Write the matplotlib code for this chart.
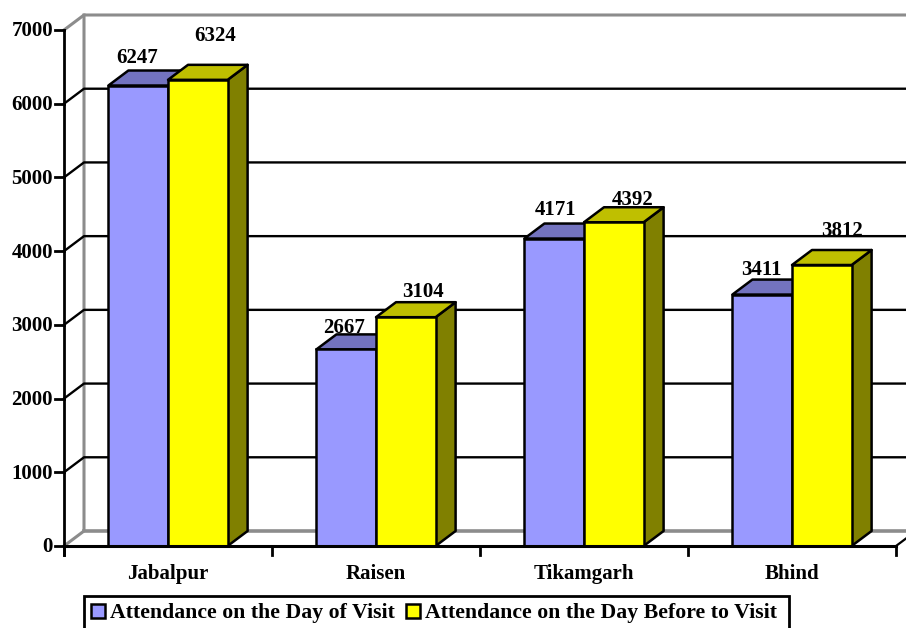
import matplotlib
matplotlib.use("Agg")
import matplotlib.pyplot as plt
from matplotlib.patches import Polygon, Rectangle

categories = ["Jabalpur", "Raisen", "Tikamgarh", "Bhind"]
day_of_visit = [6247, 2667, 4171, 3411]
day_before = [6324, 3104, 4392, 3812]
series_names = ["Attendance on the Day of Visit", "Attendance on the Day Before to Visit"]
y_ticks = [0, 1000, 2000, 3000, 4000, 5000, 6000, 7000]

# manual data-label offsets in pixels (x, y) from the centre of the bar top
off_a = [(-1, 28), (-2, 21), (1, 28.5), (-1, 25)]
off_b = [(17, 43.5), (17, 25.5), (19, 22.5), (20, 34.5)]

W, H = 906, 628
plt.rcParams['font.family'] = ['Liberation Serif', 'DejaVu Serif']
plt.rcParams['font.weight'] = 'bold'
fig = plt.figure(figsize=(W / 100, H / 100), dpi=100)
L, R, T, B = 64, 896, 30, 546
ax = fig.add_axes([L / W, 1 - B / H, (R - L) / W, (B - T) / H])
ax.set_xlim(0, len(categories))
ax.set_ylim(0, 7000)
ax.axis("off")

px_x = len(categories) / (R - L)
px_y = 7000 / (B - T)
dx, dy = 20 * px_x, 15 * px_y
bar_w = 59.6 * px_x
nc = len(categories)
pt = 72 / 100

GRAY = "#8c8c8c"
# walls
ax.plot([0, dx, dx], [0, dy, 7000 + dy], color=GRAY, lw=2.2, clip_on=False, zorder=1, solid_capstyle="projecting")
ax.plot([0, dx, nc + dx], [7000, 7000 + dy, 7000 + dy], color=GRAY, lw=2.2, clip_on=False, zorder=1)
ax.plot([dx, nc + dx], [dy, dy], color=GRAY, lw=2.6, clip_on=False, zorder=1)
ax.plot([nc, nc + dx], [0, dy], color="black", lw=1.6, clip_on=False, zorder=1)
# grid
for v in y_ticks[1:-1]:
    ax.plot([0, dx, nc + dx], [v, v + dy, v + dy], color="black", lw=1.7, clip_on=False, zorder=1.5)

# axes lines and ticks
ax.plot([0, 0], [7000, -9 * px_y], color="black", lw=2, clip_on=False, zorder=5)
ax.plot([0, nc], [0, 0], color="black", lw=2.2, clip_on=False, zorder=5)
for v in y_ticks:
    ax.plot([-9 * px_x, 0], [v, v], color="black", lw=2, clip_on=False, zorder=5)
    ax.text(-11 * px_x, v - 1.5 * px_y, str(v), ha="right", va="center", fontsize=15, clip_on=False)
for i in range(nc + 1):
    ax.plot([i, i], [0, -9 * px_y], color="black", lw=2, clip_on=False, zorder=5)
for i, c in enumerate(categories):
    ax.text(i + 0.5, -28 * px_y, c, ha="center", va="center", fontsize=15)

# bars
series = [
    (day_of_visit, "#9999FF", "#7373BF", "#4D4D80", -bar_w, off_a),
    (day_before, "#FFFF00", "#BFBF00", "#808000", 0, off_b),
]
z = 2
for i in range(nc):
    for vals, front, top, side, shift, offs in series:
        x0 = i + 0.5 + shift
        x1 = x0 + bar_w
        v = vals[i]
        ax.add_patch(Polygon([(x1, 0), (x1 + dx, dy), (x1 + dx, v + dy), (x1, v)], fc=side, ec="black", lw=1.8, zorder=z, joinstyle="round", clip_on=False))
        ax.add_patch(Polygon([(x0, v), (x0 + dx, v + dy), (x1 + dx, v + dy), (x1, v)], fc=top, ec="black", lw=1.8, zorder=z, joinstyle="round", clip_on=False))
        ax.bar(x0, v, width=bar_w, align="edge", color=front, edgecolor="black", lw=1.8, zorder=z + 0.1, clip_on=False)
        z += 0.2
for i in range(nc):
    for vals, front, top, side, shift, offs in series:
        ax.annotate(str(vals[i]), (i + 0.5 + shift + bar_w / 2, vals[i]),
                    xytext=(offs[i][0] * pt, offs[i][1] * pt), textcoords="offset points",
                    ha="center", va="center", fontsize=15, zorder=20, annotation_clip=False)

# legend (bottom edge falls outside the canvas, as in the reference)
def fx(p): return p / W
def fy(p): return 1 - p / H
fig.add_artist(Rectangle((fx(84), fy(640)), (789 - 84) / W, (640 - 595.5) / H, transform=fig.transFigure, fc="white", ec="black", lw=2))
for xp, col, name in [(91, "#9999FF", series_names[0]), (406, "#FFFF00", series_names[1])]:
    fig.add_artist(Rectangle((fx(xp), fy(618)), 14 / W, 14 / H, transform=fig.transFigure, fc=col, ec="black", lw=1.8))
    fig.text(fx(xp + 19), fy(613), name, ha="left", va="center", fontsize=15.7)

fig.savefig("out.png", dpi=100)
